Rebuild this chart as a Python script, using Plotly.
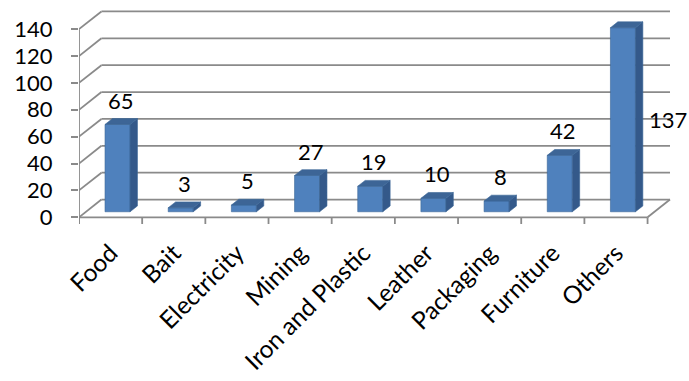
import plotly.graph_objects as go

categories = ["Food", "Bait", "Electricity", "Mining", "Iron and Plastic",
              "Leather", "Packaging", "Furniture", "Others"]
values = [65, 3, 5, 27, 19, 10, 8, 42, 137]
y_ticks = [0, 20, 40, 60, 80, 100, 120, 140]

FONT = "Lato"
FS = 22
FS_CAT = 24.5
GRID = "#8a8a8a"
FRONT = "#4F81BD"
SIDE = "#34598A"
TOP = "#3D6596"

# oblique depth of the 3D box in data units
DX = 0.355
DY = 13.2
F0 = 0.31   # depth position of bar front face
BD = 0.33   # bar depth fraction
HW = 0.198  # bar half width

n = len(categories)
fx, fy, sx, sy, tx, ty = [], [], [], [], [], []
for i, v in enumerate(values):
    c = i + 0.5
    x0 = c - HW + F0 * DX
    x1 = c + HW + F0 * DX
    yb = F0 * DY
    yt = v + F0 * DY
    ox, oy = BD * DX, BD * DY
    fx += [x0, x1, x1, x0, x0, None]
    fy += [yb, yb, yt, yt, yb, None]
    sx += [x1, x1 + ox, x1 + ox, x1, x1, None]
    sy += [yb, yb + oy, yt + oy, yt, yb, None]
    tx += [x0, x1, x1 + ox, x0 + ox, x0, None]
    ty += [yt, yt, yt + oy, yt + oy, yt, None]

fig = go.Figure()
for xs, ys, col in [(fx, fy, FRONT), (sx, sy, SIDE), (tx, ty, TOP)]:
    fig.add_trace(go.Scatter(x=xs, y=ys, mode="lines", fill="toself",
                             fillcolor=col, line=dict(color="#3a6697", width=0.6),
                             hoverinfo="skip", showlegend=False))

shapes = []
line = dict(color=GRID, width=1.8)
for t in y_ticks:
    shapes.append(dict(type="line", xref="x", yref="y", x0=DX, y0=t + DY,
                       x1=n + DX, y1=t + DY, line=line, layer="below"))
    shapes.append(dict(type="line", xref="x", yref="y", x0=0, y0=t,
                       x1=DX, y1=t + DY, line=line, layer="below"))
shapes.append(dict(type="line", xref="x", yref="y", x0=0, y0=0, x1=n, y1=0,
                   line=line, layer="below"))
shapes.append(dict(type="line", xref="x", yref="y", x0=n, y0=0, x1=n + DX, y1=DY,
                   line=line, layer="below"))
shapes.append(dict(type="line", xref="x", yref="y", x0=0, y0=-5, x1=0, y1=y_ticks[-1],
                   line=line, layer="below"))
for i in range(n + 1):
    shapes.append(dict(type="line", xref="x", yref="y", x0=i, y0=0, x1=i, y1=-5,
                       line=line, layer="below"))

annotations = []
for i, v in enumerate(values):
    c = i + 0.5 + (F0 + BD / 2) * DX
    if v > 120:
        annotations.append(dict(x=i + 0.5 + HW + (F0 + BD) * DX, y=v / 2 + F0 * DY,
                                text=str(v), showarrow=False, xanchor="left",
                                yanchor="middle", xshift=4,
                                font=dict(family=FONT, size=FS, color="black")))
    else:
        annotations.append(dict(x=c, y=v + (F0 + BD) * DY, text=str(v),
                                showarrow=False, xanchor="center", yanchor="bottom",
                                yshift=3,
                                font=dict(family=FONT, size=FS, color="black")))

fig.update_layout(
    width=689, height=381,
    margin=dict(l=79.3, r=13.3, t=9.2, b=157.1, autoexpand=False),
    paper_bgcolor="white", plot_bgcolor="white",
    shapes=shapes, annotations=annotations,
    font=dict(family=FONT, size=FS, color="black"),
    xaxis=dict(range=[0, n + 0.45], showgrid=False, zeroline=False, showline=False,
               automargin=False,
               tickmode="array", tickvals=[i + 0.5 for i in range(n)],
               ticktext=categories, tickangle=-45, ticks="",
               ticklabelstandoff=9, tickfont=dict(family=FONT, size=FS_CAT)),
    yaxis=dict(range=[-5, 155], showgrid=False, zeroline=False, showline=False,
               automargin=False,
               tickmode="array", tickvals=y_ticks, ticks="outside", ticklen=7,
               tickwidth=1.8, tickcolor=GRID, ticklabelstandoff=14,
               tickfont=dict(family=FONT, size=FS)),
)

fig.write_html("out.html")
